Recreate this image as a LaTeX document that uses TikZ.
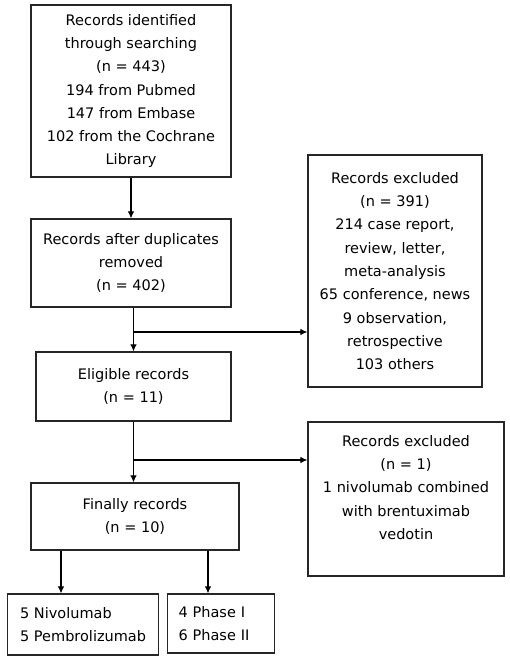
\documentclass[tikz,border=0pt]{standalone}
\usepackage{fontspec}
\setmainfont{DejaVu Sans}
\usetikzlibrary{arrows.meta}
\begin{document}
\begin{tikzpicture}[x=1bp,y=-1bp,
  box/.style={draw=black!85,line width=1.2bp,inner sep=0pt,align=center,
    font=\fontsize{14.5bp}{23.3bp}\selectfont},
  conn/.style={line width=1.1bp,-{Latex[length=7bp,width=6.5bp]}},
  plain/.style={line width=1.1bp}]
\useasboundingbox (0,0) rectangle (510,660);
\node[box,minimum width=200bp,minimum height=172bp] (b1) at (131,91)
  {Records identified\\through searching\\(n = 443)\\194 from Pubmed\\147 from Embase\\102 from the Cochrane\\Library};
\node[box,minimum width=200bp,minimum height=88bp] (b2) at (131,263)
  {Records after duplicates\\removed\\(n = 402)};
\node[box,minimum width=174bp,minimum height=232bp] (b3) at (395,271)
  {Records excluded\\(n = 391)\\214 case report,\\review, letter,\\meta-analysis\\65 conference, news\\9 observation,\\retrospective\\103 others};
\node[box,minimum width=195bp,minimum height=69bp] (el) at (133.5,386.5)
  {Eligible records\\(n = 11)};
\node[box,minimum width=196bp,minimum height=154bp] (b4) at (406,499)
  {Records excluded\\(n = 1)\\1 nivolumab combined\\with brentuximab\\vedotin\\\mbox{}};
\node[box,minimum width=208bp,minimum height=67bp] (fin) at (135,516.5)
  {Finally records\\(n = 10)};
\node[box,minimum width=151bp,minimum height=61bp,align=left,anchor=west,
  inner xsep=10bp] (niv) at (7,624.5)
  {5 Nivolumab\\5 Pembrolizumab};
\node[box,minimum width=107bp,minimum height=59bp,align=left,anchor=west,
  inner xsep=11bp,text width=85bp] (ph) at (167,623.5)
  {4 Phase I\\6 Phase II};
\draw[conn] (b1.south) -- (b2.north);
\coordinate (top2) at (b2.south -| el.north);
\draw[conn] (top2) -- (el.north);
\coordinate (j1) at (el.north |- 0,332);
\draw[conn] (j1) -- (j1 -| b3.west);
\coordinate (j2) at (el.south |- 0,460);
\draw[conn] (el.south) -- (j2 |- fin.north);
\draw[conn] (j2) -- (j2 -| b4.west);
\coordinate (f1) at (fin.south -| 61,0);
\coordinate (f2) at (fin.south -| 208,0);
\draw[conn] (f1) -- (f1 |- niv.north);
\draw[conn] (f2) -- (f2 |- ph.north);
\end{tikzpicture}
\end{document}
